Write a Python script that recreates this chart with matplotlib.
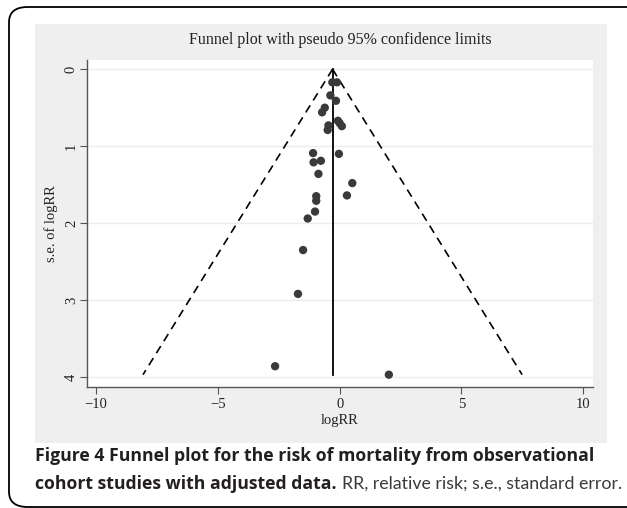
import matplotlib
matplotlib.use("Agg")
import matplotlib.pyplot as plt
import numpy as np
from matplotlib.patches import Rectangle, FancyBboxPatch

# ---- data ----
log_rr = [-0.30, -0.11, -0.38, -0.15, -0.61, -0.72, -0.07, 0.00, 0.09, -0.46,
          -0.49, -1.09, -0.03, -1.07, -0.77, -0.87, 0.52, 0.30, -0.96, -0.96,
          -1.01, -1.31, -1.50, -1.71, -2.65, 2.02]
se_log_rr = [0.17, 0.17, 0.34, 0.41, 0.50, 0.56, 0.67, 0.70, 0.74, 0.73,
             0.79, 1.09, 1.10, 1.21, 1.19, 1.36, 1.48, 1.64, 1.65, 1.71,
             1.85, 1.94, 2.35, 2.92, 3.86, 3.97]
pooled = -0.29
x_ticks = [-10, -5, 0, 5, 10]
y_ticks = [0, 1, 2, 3, 4]
title = "Funnel plot with pseudo 95% confidence limits"
x_label = "logRR"
y_label = "s.e. of logRR"
caption_bold_1 = "Figure 4 Funnel plot for the risk of mortality from observational"
caption_bold_2 = "cohort studies with adjusted data."
caption_regular = "RR, relative risk; s.e., standard error."

W, H = 627, 508
fig = plt.figure(figsize=(W / 100, H / 100), dpi=100)
fig.patch.set_facecolor("white")

def fx(px):
    return px / W

def fy(py):
    return 1 - py / H

# outer rounded border
border = FancyBboxPatch((fx(9), fy(507)), fx(660), (507 - 7) / H,
                        boxstyle="round,pad=0,rounding_size=0.03",
                        transform=fig.transFigure, fill=False,
                        edgecolor="black", linewidth=1.3, zorder=0)
fig.patches.append(border)

# grey Stata panel
panel = Rectangle((fx(35), fy(443)), (607 - 35) / W, (443 - 24) / H,
                  transform=fig.transFigure, facecolor="#efefef",
                  edgecolor="none", zorder=0)
fig.patches.append(panel)

ax = fig.add_axes([fx(87), fy(387), (593 - 87) / W, (387 - 60) / H])
ax.set_facecolor("white")
ax.set_zorder(1)

serif = "Liberation Serif"

ax.set_xlim(-10.37, 10.4)
ax.set_ylim(4.13, -0.12)

for yv in y_ticks:
    ax.axhline(yv, color="#ececec", linewidth=1.0, zorder=0)

se_max = max(se_log_rr)
se_line = np.array([0.0, se_max])
ax.plot(pooled - 1.96 * se_line, se_line, color="black", linewidth=1.2,
        linestyle=(0, (5, 3.5)), zorder=2)
ax.plot(pooled + 1.96 * se_line, se_line, color="black", linewidth=1.2,
        linestyle=(0, (5, 3.5)), zorder=2)
ax.plot([pooled, pooled], se_line, color="black", linewidth=1.3, zorder=2)

ax.scatter(log_rr, se_log_rr, s=36, color="#3a3a3a", edgecolors="none", zorder=3)

ax.set_xticks(x_ticks)
ax.set_yticks(y_ticks)
ax.set_xticklabels(["\u221210", "\u22125", "0", "5", "10"], fontfamily=serif, fontsize=10.5)
ax.set_yticklabels([str(v) for v in y_ticks], fontfamily=serif, fontsize=10.5,
                   rotation=90, va="center")
ax.tick_params(axis="both", direction="out", length=5, width=0.8, color="#555555",
               labelcolor="#222222")
ax.tick_params(axis="x", pad=3)
ax.tick_params(axis="y", pad=1.5)

for side in ["top", "right"]:
    ax.spines[side].set_visible(False)
for side in ["left", "bottom"]:
    ax.spines[side].set_color("#555555")
    ax.spines[side].set_linewidth(1.0)

ax.set_xlabel(x_label, fontfamily=serif, fontsize=10.5, color="#222222", labelpad=2)
ax.set_ylabel(y_label, fontfamily=serif, fontsize=10.5, color="#222222", labelpad=5)

fig.text(fx(340), fy(40), title, fontfamily=serif, fontsize=11.5, color="#222222",
         ha="center", va="center")

cap_font = "Open Sans"
cap_size = 12.7
fig.text(fx(35), fy(456), caption_bold_1, fontfamily=cap_font, fontweight="bold",
         fontsize=cap_size, color="#231f20", ha="left", va="center")
t2 = fig.text(fx(35), fy(484), caption_bold_2, fontfamily=cap_font, fontweight="bold",
              fontsize=cap_size, color="#231f20", ha="left", va="center")
fig.canvas.draw()
renderer = fig.canvas.get_renderer()
bb = t2.get_window_extent(renderer)
x_start = bb.x1 + 5
t3 = fig.text(x_start / W, fy(484), caption_regular, fontfamily="Lato",
              fontsize=cap_size + 0.6, color="#3a3a3a", ha="left", va="center")
w3 = t3.get_window_extent(renderer).width
avail = 621 - x_start
if w3 > avail:
    t3.set_fontsize((cap_size + 0.6) * avail / w3)

fig.savefig("out.png", dpi=100)
